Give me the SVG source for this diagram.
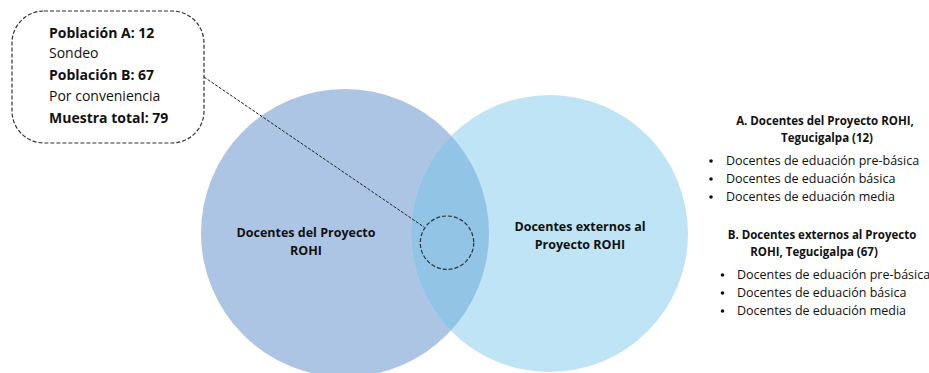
<svg xmlns="http://www.w3.org/2000/svg" width="929" height="373" viewBox="0 0 929 373">
<defs>
<style>
text{font-family:"Open Sans","Noto Sans","DejaVu Sans",sans-serif;fill:#111}
.b{font-weight:bold}
.c{font-size:12.5px}
.h{font-size:11.5px}
.l{font-size:12.5px}
.m{text-anchor:middle}
.dash{fill:none;stroke:#333;stroke-width:1.2;stroke-dasharray:4 2}
</style>
<clipPath id="clipL"><circle cx="345" cy="233" r="144"/></clipPath>
</defs>
<rect width="929" height="373" fill="#fff"/>
<g id="circleA">
<circle cx="345" cy="233" r="144" fill="#ADC5E5"/>
<text class="b c m" x="306" y="237">Docentes del Proyecto</text>
<text class="b c m" x="306" y="255">ROHI</text>
</g>
<g id="circleB">
<circle cx="549.5" cy="233.5" r="138.5" fill="#BEE4F5"/>
<circle cx="549.5" cy="233.5" r="138.5" fill="#92C4E5" clip-path="url(#clipL)"/>
<text class="b c m" x="580" y="231">Docentes externos al</text>
<text class="b c m" x="580" y="249">Proyecto ROHI</text>
</g>
<g id="sample">
<circle class="dash" cx="447" cy="242.7" r="26.7"/>
</g>
<g id="connectors">
<line x1="204" y1="77" x2="424" y2="227" stroke="#222" stroke-width="1" stroke-dasharray="3 1.5"/>
</g>
<g id="callout">
<rect class="dash" x="12" y="11" width="192" height="132" rx="32" ry="32" fill="#fff"/>
<text class="b" x="49" y="38" font-size="14">Población A: 12</text>
<text x="49" y="58" font-size="14">Sondeo</text>
<text class="b" x="49" y="80" font-size="14">Población B: 67</text>
<text x="49" y="101" font-size="14">Por conveniencia</text>
<text class="b" x="49" y="123" font-size="14">Muestra total: 79</text>
</g>
<g id="legendA">
<text class="b h m" x="825" y="125">A. Docentes del Proyecto ROHI,</text>
<text class="b h m" x="827" y="142">Tegucigalpa (12)</text>
<circle cx="711" cy="161" r="1.8" fill="#111"/>
<circle cx="711" cy="179" r="1.8" fill="#111"/>
<circle cx="711" cy="197" r="1.8" fill="#111"/>
<text class="l" x="726" y="165">Docentes de eduación pre-básica</text>
<text class="l" x="726" y="183">Docentes de eduación básica</text>
<text class="l" x="726" y="201">Docentes de eduación media</text>
</g>
<g id="legendB">
<text class="b h m" x="822" y="239">B. Docentes externos al Proyecto</text>
<text class="b h m" x="814" y="256">ROHI, Tegucigalpa (67)</text>
<circle cx="722.5" cy="275" r="1.8" fill="#111"/>
<circle cx="722.5" cy="293" r="1.8" fill="#111"/>
<circle cx="722.5" cy="311" r="1.8" fill="#111"/>
<text class="l" x="737" y="279">Docentes de eduación pre-básica</text>
<text class="l" x="737" y="297">Docentes de eduación básica</text>
<text class="l" x="737" y="315">Docentes de eduación media</text>
</g>
</svg>
